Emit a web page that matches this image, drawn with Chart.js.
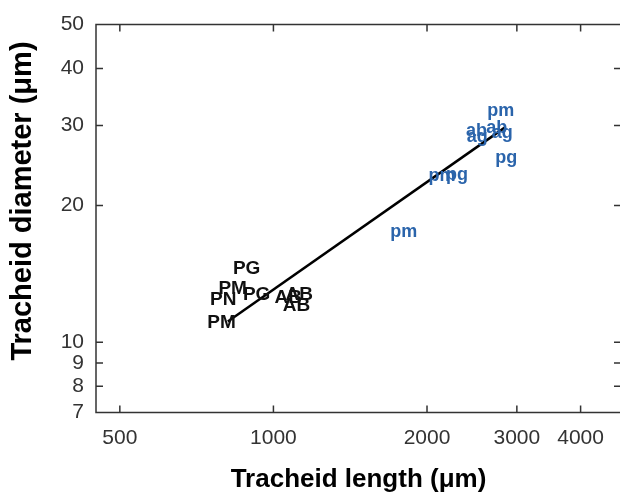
<!DOCTYPE html>
<html>
<head>
<meta charset="utf-8">
<script src="https://cdn.jsdelivr.net/npm/chart.js@4.4.1/dist/chart.umd.min.js"></script>
<style>
  html, body { margin: 0; padding: 0; background: #fff; overflow: hidden; }
</style>
</head>
<body>
<canvas id="chart" width="622" height="497"></canvas>
<script>
// uppercase group (black)
const blackLabels = ['PG', 'PM', 'PN', 'PG', 'AB', 'AB', 'AB', 'PM'];
const blackLength = [886, 832, 797, 927, 1069, 1124, 1110, 791];
const blackDiameter = [14.5, 13.1, 12.4, 12.7, 12.5, 12.7, 12.0, 11.05];

// lowercase group (blue)
const blueLabels = ['pm', 'ab', 'ab', 'ag', 'ag', 'pg', 'pm', 'pg', 'pm'];
const blueLength = [2790, 2500, 2740, 2510, 2810, 2860, 2140, 2290, 1800];
const blueDiameter = [32.3, 29.2, 29.6, 28.3, 28.8, 25.4, 23.2, 23.3, 17.5];

// fitted line
const fitLength = [814, 2844];
const fitDiameter = [11.1, 29.7];

const xTicks = [500, 1000, 2000, 3000, 4000];
const yTicks = [7, 8, 9, 10, 20, 30, 40, 50];

const yTitle = 'Tracheid diameter (\u03bcm)';

const FONT = "'Liberation Sans', Arial, sans-serif";

const toPoints = (xs, ys) => xs.map((x, i) => ({ x: x, y: ys[i] }));

// draws the text markers at each data point
const textMarkers = {
    id: 'textMarkers',
    afterDatasetsDraw(chart) {
        const ctx = chart.ctx;
        ctx.save();
        ctx.textAlign = 'center';
        ctx.textBaseline = 'middle';
        chart.data.datasets.forEach((ds, i) => {
            if (!ds.markerText) return;
            const meta = chart.getDatasetMeta(i);
            ctx.fillStyle = ds.markerColor;
            ctx.font = ds.markerFont;
            meta.data.forEach((el, j) => {
                ctx.fillText(ds.markerText[j], el.x, el.y);
            });
        });
        ctx.restore();
    }
};

// box with inward ticks on all four sides, plus the y title
const boxTicks = {
    id: 'boxTicks',
    afterDraw(chart) {
        const ctx = chart.ctx;
        const a = chart.chartArea;
        const xs = chart.scales.x, ys = chart.scales.y;
        const len = 7;
        ctx.save();
        ctx.strokeStyle = '#333';
        ctx.lineWidth = 1.5;
        ctx.beginPath();
        ctx.moveTo(a.left, a.top);
        ctx.lineTo(a.right, a.top);
        ctx.lineTo(a.right, a.bottom);
        ctx.lineTo(a.left, a.bottom);
        ctx.closePath();
        xTicks.forEach(v => {
            const px = xs.getPixelForValue(v);
            ctx.moveTo(px, a.bottom);
            ctx.lineTo(px, a.bottom - len);
            ctx.moveTo(px, a.top);
            ctx.lineTo(px, a.top + len);
        });
        yTicks.forEach(v => {
            const py = ys.getPixelForValue(v);
            ctx.moveTo(a.left, py);
            ctx.lineTo(a.left + len, py);
            ctx.moveTo(a.right, py);
            ctx.lineTo(a.right - len, py);
        });
        ctx.stroke();

        // y title sits a bit above the plot's centre in the original
        ctx.translate(23, 201);
        ctx.rotate(-Math.PI / 2);
        ctx.textAlign = 'center';
        ctx.textBaseline = 'middle';
        ctx.fillStyle = '#000';
        ctx.font = 'bold 29px ' + FONT;
        ctx.fillText(yTitle, 0, 0);
        ctx.restore();
    }
};

new Chart(document.getElementById('chart'), {
    type: 'scatter',
    data: {
        datasets: [
            {
                type: 'line',
                data: toPoints(fitLength, fitDiameter),
                borderColor: '#000',
                borderWidth: 2.5,
                pointRadius: 0,
                fill: false
            },
            {
                data: toPoints(blackLength, blackDiameter),
                markerText: blackLabels,
                markerColor: '#111',
                markerFont: 'bold 19px ' + FONT,
                pointRadius: 0
            },
            {
                data: toPoints(blueLength, blueDiameter),
                markerText: blueLabels,
                markerColor: '#2a64ab',
                markerFont: 'bold 18px ' + FONT,
                pointRadius: 0
            }
        ]
    },
    options: {
        responsive: false,
        animation: false,
        layout: { padding: { top: 18.5, right: 1, left: 0, bottom: 0 } },
        plugins: {
            legend: { display: false },
            tooltip: { enabled: false }
        },
        scales: {
            x: {
                type: 'logarithmic',
                min: 449,
                max: 4800,
                grid: { display: false, drawTicks: false },
                border: { display: false },
                afterBuildTicks: s => { s.ticks = xTicks.map(v => ({ value: v })); },
                afterFit: s => { s.height = 84.5; },
                ticks: {
                    autoSkip: false,
                    maxRotation: 0,
                    padding: 13,
                    color: '#333',
                    font: { family: FONT, size: 21 },
                    callback: v => String(v)
                },
                title: {
                    display: true,
                    text: 'Tracheid length (\u03bcm)',
                    color: '#000',
                    font: { family: FONT, size: 26, weight: 'bold' },
                    padding: { top: 0, bottom: 2 }
                }
            },
            y: {
                type: 'logarithmic',
                min: 7,
                max: 50,
                grid: { display: false, drawTicks: false },
                border: { display: false },
                afterBuildTicks: s => { s.ticks = yTicks.map(v => ({ value: v })); },
                afterFit: s => { s.width = 96; },
                ticks: {
                    autoSkip: false,
                    padding: 12,
                    color: '#333',
                    font: { family: FONT, size: 21 },
                    callback: v => String(v)
                }
            }
        }
    },
    plugins: [textMarkers, boxTicks]
});
</script>
</body>
</html>
